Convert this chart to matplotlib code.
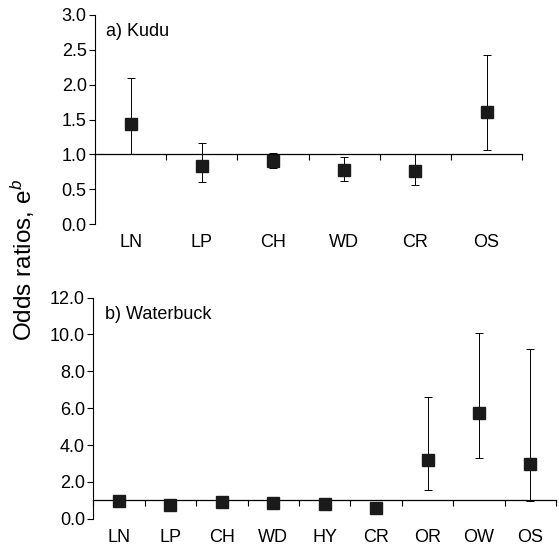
import matplotlib
matplotlib.use('Agg')
from matplotlib import pyplot as plt
import numpy as np

plt.rcParams['font.family'] = ['Liberation Sans', 'DejaVu Sans']
plt.rcParams['mathtext.fontset'] = 'custom'
plt.rcParams['mathtext.rm'] = 'Liberation Sans'
plt.rcParams['mathtext.it'] = 'Liberation Sans:italic'

# a) Kudu
kudu_labels = ['LN', 'LP', 'CH', 'WD', 'CR', 'OS']
kudu_odds = [1.44, 0.84, 0.90, 0.77, 0.76, 1.61]
kudu_lower = [1.00, 0.60, 0.80, 0.62, 0.56, 1.06]
kudu_upper = [2.10, 1.17, 1.02, 0.96, 1.01, 2.43]

# b) Waterbuck
wb_labels = ['LN', 'LP', 'CH', 'WD', 'HY', 'CR', 'OR', 'OW', 'OS']
wb_odds = [0.99, 0.75, 0.90, 0.88, 0.79, 0.61, 3.20, 5.74, 2.98]
wb_lower = [0.90, 0.65, 0.82, 0.80, 0.70, 0.52, 1.57, 3.29, 0.99]
wb_upper = [1.10, 0.86, 0.99, 0.97, 0.89, 0.71, 6.59, 10.07, 9.19]

kudu_yticks = [0.0, 0.5, 1.0, 1.5, 2.0, 2.5, 3.0]
wb_yticks = [0.0, 2.0, 4.0, 6.0, 8.0, 10.0, 12.0]


def panel(ax, labels, odds, lower, upper, yticks, title):
    n = len(labels)
    x = np.arange(n)
    odds = np.array(odds)
    yerr = [odds - np.array(lower), np.array(upper) - odds]
    ax.errorbar(x, odds, yerr=yerr, fmt='none', ecolor='black',
                elinewidth=0.7, capsize=3, capthick=0.7, zorder=2)
    ax.plot(x, odds, 's', color='#1a1a1a', markersize=9, zorder=3)

    ax.set_xlim(-0.5, n - 0.5)
    ax.set_ylim(yticks[0], yticks[-1])
    ax.set_yticks(yticks)
    ax.set_yticklabels(['%.1f' % t for t in yticks])
    ax.tick_params(axis='y', direction='out', length=4, width=0.8,
                   labelsize=13, pad=2)

    # reference line at odds ratio 1 carries the category boundary ticks
    for s in ['top', 'right']:
        ax.spines[s].set_visible(False)
    ax.spines['left'].set_linewidth(0.8)
    ax.spines['bottom'].set_position(('data', 1.0))
    ax.spines['bottom'].set_linewidth(0.9)
    ax.set_xticks(np.arange(n + 1) - 0.5)
    ax.set_xticklabels([])
    ax.tick_params(axis='x', direction='out', length=4, width=0.8)

    sec = ax.secondary_xaxis(0.0)
    sec.spines['bottom'].set_visible(False)
    sec.set_xticks(x)
    sec.set_xticklabels(labels)
    sec.tick_params(axis='x', length=0, labelsize=13, pad=7)

    ax.text(0.026, 0.96, title, transform=ax.transAxes, fontsize=13,
            va='top', ha='left')


fig = plt.figure(figsize=(5.59, 5.52), dpi=100)
ax1 = fig.add_axes([0.170, 0.594, 0.764, 0.379])
ax2 = fig.add_axes([0.167, 0.060, 0.828, 0.401])

panel(ax1, kudu_labels, kudu_odds, kudu_lower, kudu_upper, kudu_yticks, 'a) Kudu')
panel(ax2, wb_labels, wb_odds, wb_lower, wb_upper, wb_yticks, 'b) Waterbuck')

fig.text(0.040, 0.53, 'Odds ratios, e$^{\\mathit{b}}$', rotation=90,
         fontsize=17.5, ha='center', va='center')

fig.savefig('out.png', dpi=100)
